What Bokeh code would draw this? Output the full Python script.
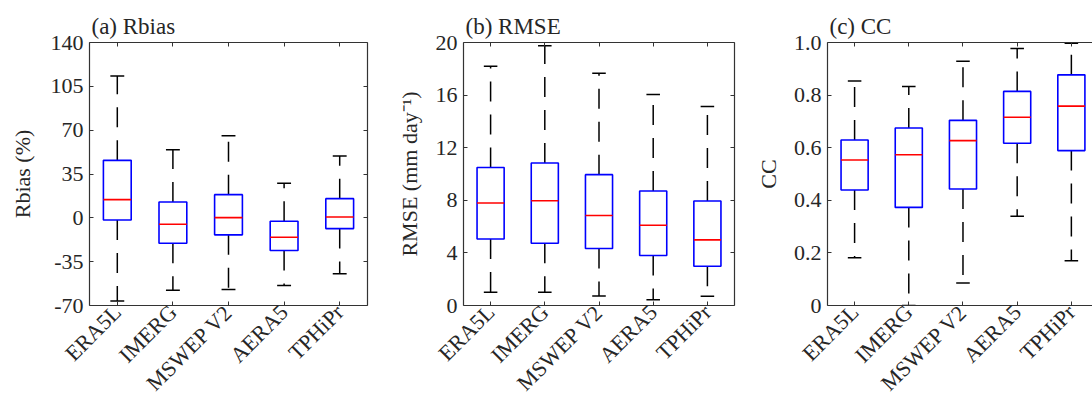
import numpy as np
from bokeh.plotting import figure
from bokeh.models import Range1d, FixedTicker, LinearAxis
from bokeh.layouts import row
from bokeh.embed import file_html
from bokeh.resources import INLINE

categories = ["ERA5L", "IMERG", "MSWEP V2", "AERA5", "TPHiPr"]

# Rbias (%)
rbias_lower = [-66.5, -57.8, -57.2, -54.0, -44.7]
rbias_q1 = [-1.7, -20.3, -13.6, -26.1, -8.6]
rbias_med = [14.5, -5.1, 0.2, -15.5, 0.7]
rbias_q3 = [45.9, 12.7, 18.5, -2.7, 15.3]
rbias_upper = [113.2, 54.4, 65.6, 27.6, 49.4]
rbias_ticks = [-70, -35, 0, 35, 70, 105, 140]
rbias_labels = ["-70", "-35", "0", "35", "70", "105", "140"]

# RMSE (mm/day)
rmse_lower = [1.0, 1.0, 0.73, 0.43, 0.71]
rmse_q1 = [5.06, 4.73, 4.33, 3.80, 2.99]
rmse_med = [7.80, 7.97, 6.84, 6.10, 4.99]
rmse_q3 = [10.50, 10.84, 9.95, 8.71, 7.95]
rmse_upper = [18.2, 19.75, 17.67, 16.05, 15.14]
rmse_ticks = [0, 4, 8, 12, 16, 20]
rmse_labels = ["0", "4", "8", "12", "16", "20"]

# CC
cc_lower = [0.182, 0.0, 0.086, 0.339, 0.170]
cc_q1 = [0.439, 0.373, 0.443, 0.617, 0.589]
cc_med = [0.553, 0.573, 0.627, 0.716, 0.758]
cc_q3 = [0.629, 0.675, 0.704, 0.814, 0.877]
cc_upper = [0.854, 0.833, 0.929, 0.977, 0.997]
cc_ticks = [0, 0.2, 0.4, 0.6, 0.8, 1.0]
cc_labels = ["0", "0.2", "0.4", "0.6", "0.8", "1.0"]

FONT = "Liberation Serif"
TXT = "#262626"
AX = "#333333"
x = np.arange(1, len(categories) + 1)


def make_panel(title, ylabel, lower, q1, med, q3, upper, ticks, labels, yr,
               width, left, right, x_end, mirror_right, ystandoff):
    p = figure(width=width, height=407, output_backend="svg", toolbar_location=None,
               x_range=Range1d(0.5, x_end), y_range=Range1d(*yr),
               min_border_left=left, min_border_right=right,
               min_border_top=42, min_border_bottom=102,
               x_axis_type=None, y_axis_type=None)
    p.outline_line_color = None
    p.grid.visible = False
    p.background_fill_color = "white"
    p.border_fill_color = "white"

    xt = FixedTicker(ticks=list(x))
    yt = FixedTicker(ticks=ticks)

    def style(ax, labels_on=True):
        ax.axis_line_color = AX
        ax.axis_line_width = 1.2
        ax.major_tick_line_color = AX
        ax.major_tick_in = 4
        ax.major_tick_out = 0
        ax.minor_tick_line_color = None
        ax.major_label_text_font = FONT
        ax.major_label_text_color = TXT
        ax.major_label_text_font_size = "22px"
        if not labels_on:
            ax.major_label_standoff = 0

    xb = LinearAxis(ticker=xt)
    style(xb)
    xb.major_label_overrides = {int(i): c for i, c in zip(x, categories)}
    xb.major_label_orientation = np.pi / 4
    xb.major_label_standoff = 3
    p.add_layout(xb, "below")

    xa = LinearAxis(ticker=xt)
    style(xa, False)
    xa.major_label_overrides = {int(i): "" for i in x}
    p.add_layout(xa, "above")

    yl = LinearAxis(ticker=yt)
    style(yl)
    yl.major_label_overrides = {t: l for t, l in zip(ticks, labels)}
    yl.major_label_standoff = 6
    yl.axis_label = ylabel
    yl.axis_label_text_font = FONT
    yl.axis_label_text_font_style = "normal"
    yl.axis_label_text_font_size = "22px"
    yl.axis_label_text_color = TXT
    yl.axis_label_standoff = ystandoff
    p.add_layout(yl, "left")

    if mirror_right:
        yr_ax = LinearAxis(ticker=yt)
        style(yr_ax, False)
        yr_ax.major_label_overrides = {t: "" for t in ticks}
        p.add_layout(yr_ax, "right")

    hw = 0.25
    cw = 0.125
    lw = 1.5
    # whiskers (dashed) from box edges
    p.segment(x0=x, y0=q3, x1=x, y1=upper, line_color="black", line_width=lw,
              line_dash="20 13")
    p.segment(x0=x, y0=q1, x1=x, y1=lower, line_color="black", line_width=lw,
              line_dash="20 13")
    # caps
    p.segment(x0=x - cw, y0=upper, x1=x + cw, y1=upper, line_color="black", line_width=lw)
    p.segment(x0=x - cw, y0=lower, x1=x + cw, y1=lower, line_color="black", line_width=lw)
    # boxes
    p.quad(left=x - hw, right=x + hw, bottom=q1, top=q3, fill_color=None,
           line_color="#0000ff", line_width=1.6)
    # medians
    p.segment(x0=x - hw, y0=med, x1=x + hw, y1=med, line_color="#ff0000", line_width=1.6)

    p.title.text = title
    p.title.align = "left"
    p.title.text_font = FONT
    p.title.text_font_style = "normal"
    p.title.text_font_size = "23px"
    p.title.text_color = TXT
    p.title.offset = 2
    p.title.standoff = 7
    return p


pa = make_panel("(a) Rbias", "Rbias (%)", rbias_lower, rbias_q1, rbias_med, rbias_q3,
                rbias_upper, rbias_ticks, rbias_labels, (-70, 140),
                width=387, left=89, right=20, x_end=5.5, mirror_right=True, ystandoff=13)
pb = make_panel("(b) RMSE", "RMSE (mm day\u207b\u00b9)", rmse_lower, rmse_q1, rmse_med,
                rmse_q3, rmse_upper, rmse_ticks, rmse_labels, (0, 20),
                width=365, left=76, right=18, x_end=5.5, mirror_right=True, ystandoff=11)
pc = make_panel("(c) CC", "CC", cc_lower, cc_q1, cc_med, cc_q3, cc_upper,
                cc_ticks, cc_labels, (0, 1.0),
                width=340, left=75, right=0, x_end=5.39, mirror_right=False, ystandoff=10)

layout = row(pa, pb, pc, spacing=0)
open("out.html", "w").write(file_html(layout, INLINE))
